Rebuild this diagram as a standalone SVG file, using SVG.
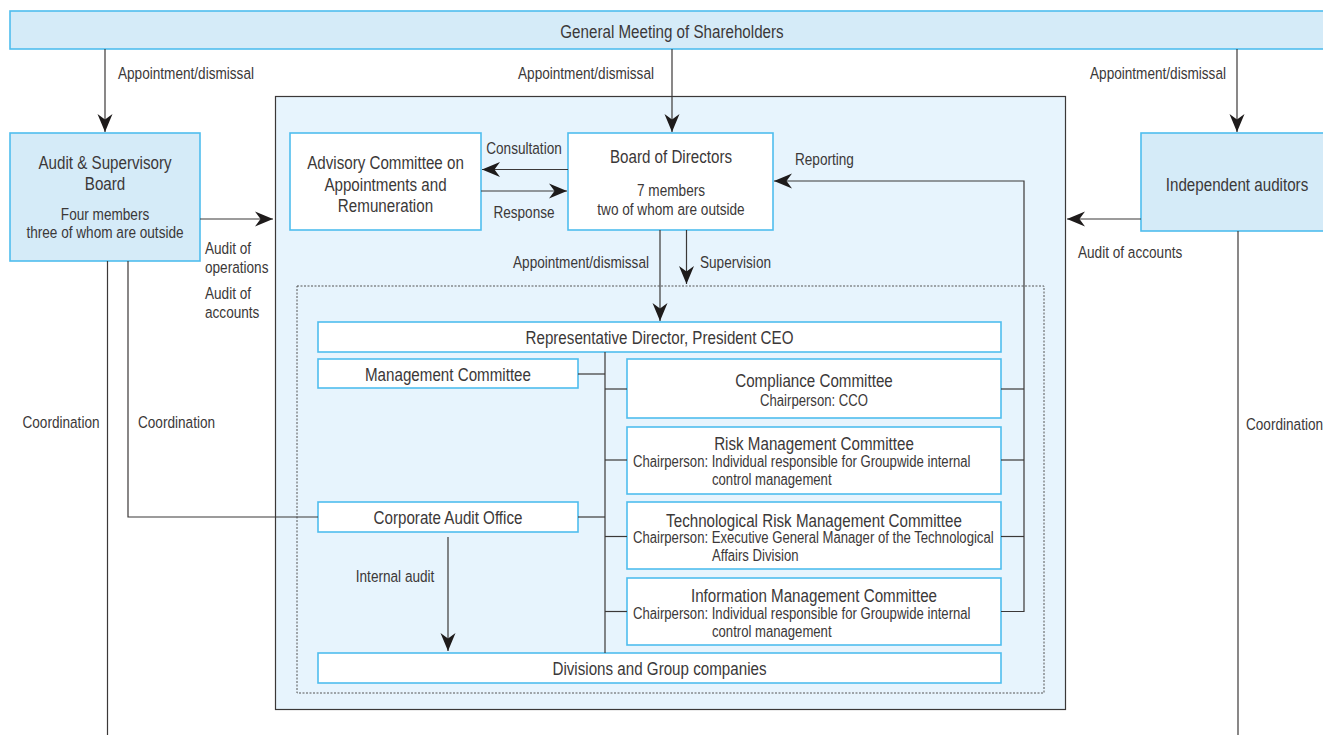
<svg xmlns="http://www.w3.org/2000/svg" width="1323" height="735" viewBox="0 0 1323 735">
  <style>
    text { font-family: "Liberation Sans", Arial, sans-serif; fill: #3b3838;
           transform: scaleX(0.82); transform-box: fill-box; transform-origin: left center; }
    .big { font-size: 18.5px; }
    .sm { font-size: 16.6px; }
    .sub { font-size: 16px; }
    .mid { text-anchor: middle; transform-origin: center; }
    .end { text-anchor: end; transform-origin: right center; }
    .box { fill: #ffffff; stroke: #4fbdee; stroke-width: 1.6; }
    .tint { fill: #d5ebf8; stroke: #4fbdee; stroke-width: 1.6; }
    .wire { fill: none; stroke: #3b3838; stroke-width: 1.2; }
    .arrow { fill: none; stroke: #3b3838; stroke-width: 1.2; marker-end: url(#head); }
  </style>
  <defs>
    <marker id="head" viewBox="-19 -9 20 18" refX="0" refY="0" markerWidth="20" markerHeight="18" markerUnits="userSpaceOnUse" orient="auto">
      <path d="M0,0 L-18,-7.5 L-12.5,0 L-18,7.5 Z" fill="#1e1b1b"/>
    </marker>
  </defs>

  <rect width="1323" height="735" fill="#ffffff"/>

  <!-- execution area -->
  <g id="execution-area">
    <rect x="275.5" y="96.5" width="790" height="613" fill="#e7f4fd" stroke="#3b3838" stroke-width="1.2"/>
    <rect x="297" y="286" width="747" height="407" fill="none" stroke="#555" stroke-width="1" stroke-dasharray="2 1.5"/>
  </g>

  <g id="shareholders">
    <rect class="tint" x="10" y="11" width="1330" height="38"/>
    <text class="big mid" x="672" y="38">General Meeting of Shareholders</text>
  </g>

  <g id="audit-board">
    <rect class="tint" x="10" y="133" width="190" height="128"/>
    <text class="big mid" x="105" y="169.5">Audit &amp; Supervisory</text>
    <text class="big mid" x="105" y="190">Board</text>
    <text class="sm mid" x="105" y="220.5">Four members</text>
    <text class="sm mid" x="105" y="238">three of whom are outside</text>
  </g>

  <g id="advisory-committee">
    <rect class="box" x="290" y="133" width="191" height="97"/>
    <text class="big mid" x="385.5" y="169.5">Advisory Committee on</text>
    <text class="big mid" x="385.5" y="191">Appointments and</text>
    <text class="big mid" x="385.5" y="212">Remuneration</text>
  </g>

  <g id="board-of-directors">
    <rect class="box" x="568" y="133" width="205" height="97"/>
    <text class="big mid" x="671" y="163">Board of Directors</text>
    <text class="sm mid" x="671" y="196">7 members</text>
    <text class="sm mid" x="671" y="215">two of whom are outside</text>
  </g>

  <g id="independent-auditors">
    <rect class="tint" x="1141" y="133" width="200" height="98"/>
    <text class="big mid" x="1237" y="191">Independent auditors</text>
  </g>

  <g id="representative-director">
    <rect class="box" x="318" y="322" width="683" height="30"/>
    <text class="big mid" x="659.5" y="344.5">Representative Director, President CEO</text>
  </g>

  <g id="management-committee">
    <rect class="box" x="318" y="359" width="260" height="29"/>
    <text class="big mid" x="448" y="381.5">Management Committee</text>
  </g>

  <g id="compliance-committee">
    <rect class="box" x="627" y="359" width="374" height="59"/>
    <text class="big mid" x="814" y="387">Compliance Committee</text>
    <text class="sub mid" x="814" y="406">Chairperson: CCO</text>
  </g>

  <g id="risk-committee">
    <rect class="box" x="627" y="427" width="374" height="67"/>
    <text class="big mid" x="814" y="450.5">Risk Management Committee</text>
    <text class="sub" x="633" y="467.5">Chairperson: Individual responsible for Groupwide internal</text>
    <text class="sub" x="712" y="485.5">control management</text>
  </g>

  <g id="tech-risk-committee">
    <rect class="box" x="627" y="502" width="374" height="67"/>
    <text class="big mid" x="814" y="527">Technological Risk Management Committee</text>
    <text class="sub" x="633" y="543.5">Chairperson: Executive General Manager of the Technological</text>
    <text class="sub" x="712" y="561.5">Affairs Division</text>
  </g>

  <g id="information-committee">
    <rect class="box" x="627" y="578" width="374" height="67"/>
    <text class="big mid" x="814" y="602.5">Information Management Committee</text>
    <text class="sub" x="633" y="619.5">Chairperson: Individual responsible for Groupwide internal</text>
    <text class="sub" x="712" y="637.5">control management</text>
  </g>

  <g id="corporate-audit-office">
    <rect class="box" x="318" y="502" width="260" height="30"/>
    <text class="big mid" x="448" y="524">Corporate Audit Office</text>
  </g>

  <g id="divisions">
    <rect class="box" x="318" y="653" width="683" height="30"/>
    <text class="big mid" x="659.5" y="675">Divisions and Group companies</text>
  </g>

  <g id="connectors">
    <!-- appointments from shareholders -->
    <line class="arrow" x1="105" y1="49" x2="105" y2="132"/>
    <line class="arrow" x1="672" y1="49" x2="672" y2="132"/>
    <line class="arrow" x1="1237" y1="49" x2="1237" y2="132"/>
    <!-- audits into the execution area -->
    <line class="arrow" x1="200" y1="219" x2="273" y2="219"/>
    <line class="arrow" x1="1141" y1="219" x2="1067" y2="219"/>
    <!-- board and advisory committee -->
    <line class="arrow" x1="568" y1="169.5" x2="482" y2="169.5"/>
    <line class="arrow" x1="481" y1="191" x2="567" y2="191"/>
    <!-- board down to management -->
    <line class="arrow" x1="660" y1="230" x2="660" y2="321"/>
    <line class="arrow" x1="686.5" y1="230" x2="686.5" y2="284"/>
    <!-- committee reporting loop -->
    <polyline class="wire" points="1001,389 1024,389"/>
    <polyline class="wire" points="1001,460 1024,460"/>
    <polyline class="wire" points="1001,536.5 1024,536.5"/>
    <polyline class="arrow" points="1001,611.5 1024,611.5 1024,181 774,181"/>
    <!-- organisation trunk -->
    <line class="wire" x1="605" y1="352" x2="605" y2="653"/>
    <line class="wire" x1="578" y1="374" x2="605" y2="374"/>
    <line class="wire" x1="578" y1="517" x2="605" y2="517"/>
    <line class="wire" x1="605" y1="389" x2="627" y2="389"/>
    <line class="wire" x1="605" y1="460" x2="627" y2="460"/>
    <line class="wire" x1="605" y1="536.5" x2="627" y2="536.5"/>
    <line class="wire" x1="605" y1="611.5" x2="627" y2="611.5"/>
    <!-- internal audit -->
    <line class="arrow" x1="448" y1="537" x2="448" y2="651"/>
    <!-- coordination -->
    <line class="wire" x1="107.5" y1="261" x2="107.5" y2="735"/>
    <polyline class="wire" points="128,261 128,517 318,517"/>
    <line class="wire" x1="1238" y1="231" x2="1238" y2="735"/>
  </g>

  <g id="labels">
    <text class="sm" x="118" y="79">Appointment/dismissal</text>
    <text class="sm end" x="654" y="79">Appointment/dismissal</text>
    <text class="sm end" x="1226" y="79">Appointment/dismissal</text>
    <text class="sm" x="205" y="254">Audit of</text>
    <text class="sm" x="205" y="273">operations</text>
    <text class="sm" x="205" y="299">Audit of</text>
    <text class="sm" x="205" y="318.5">accounts</text>
    <text class="sm mid" x="524" y="154.5">Consultation</text>
    <text class="sm mid" x="524" y="218.5">Response</text>
    <text class="sm" x="795" y="165">Reporting</text>
    <text class="sm" x="1078" y="258.5">Audit of accounts</text>
    <text class="sm end" x="649" y="268.5">Appointment/dismissal</text>
    <text class="sm" x="700" y="268.5">Supervision</text>
    <text class="sm mid" x="395" y="582">Internal audit</text>
    <text class="sm mid" x="61" y="428.5">Coordination</text>
    <text class="sm" x="138" y="428.5">Coordination</text>
    <text class="sm" x="1246" y="430">Coordination</text>
  </g>
</svg>
